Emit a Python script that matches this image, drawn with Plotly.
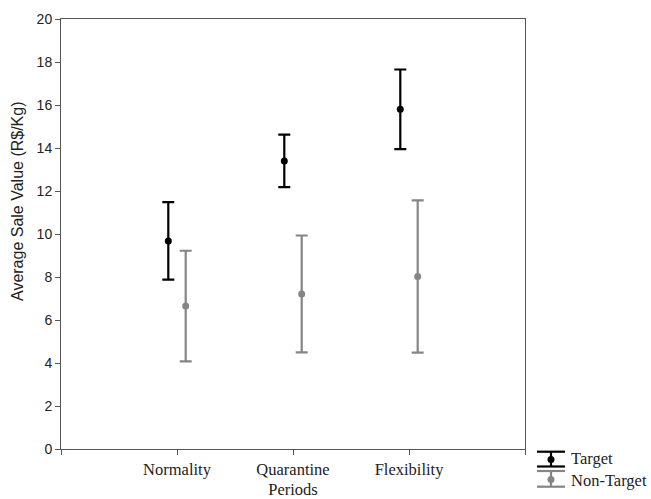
import plotly.graph_objects as go

categories = ["Normality", "Quarantine", "Flexibility"]
target_mean = [9.68, 13.40, 15.80]
target_err = [1.80, 1.22, 1.85]
nontarget_mean = [6.65, 7.21, 8.02]
nontarget_err = [2.57, 2.72, 3.54]
y_ticks = [0, 2, 4, 6, 8, 10, 12, 14, 16, 18, 20]

pos = [i + 1 for i in range(len(categories))]
off = 0.075

fig = go.Figure()
fig.add_trace(go.Scatter(
    x=[p - off for p in pos], y=target_mean, mode="markers", name="Target",
    marker=dict(color="black", size=7),
    error_y=dict(type="data", array=target_err, color="black", thickness=2.2, width=6),
    showlegend=False))
fig.add_trace(go.Scatter(
    x=[p + off for p in pos], y=nontarget_mean, mode="markers", name="Non-Target",
    marker=dict(color="#858585", size=7),
    error_y=dict(type="data", array=nontarget_err, color="#858585", thickness=2.2, width=6),
    showlegend=False))

axis_col = "#555555"
serif = "Liberation Serif"
sans = "Liberation Sans"
fig.update_layout(
    width=651, height=499,
    margin=dict(l=61, r=126, t=19, b=50),
    paper_bgcolor="white", plot_bgcolor="white",
    xaxis=dict(range=[0, 4], tickvals=[0] + pos + [4], ticktext=[""] + categories + [""],
               ticks="outside", ticklen=5, tickcolor=axis_col, showline=True, linecolor=axis_col,
               linewidth=1, mirror=True, showgrid=False, zeroline=False, automargin=False,
               tickfont=dict(family=serif, size=16.5, color="#222"),
               title=dict(text="Periods", font=dict(family=serif, size=16.5, color="#222"),
                          standoff=13)),
    yaxis=dict(range=[0, 20], tickvals=y_ticks, ticks="outside", ticklen=5, tickcolor=axis_col,
               showline=True, linecolor=axis_col, linewidth=1, mirror=True, showgrid=False,
               zeroline=False, automargin=False,
               tickfont=dict(family=sans, size=14, color="#222")),
)

# helpers convert page pixels to paper coords (plot area spans x 61..525, y 19..449)
def px_x(v):
    return (v - 61) / 464

def px_y(v):
    return (449 - v) / 430

# y-axis title (placed above centre as in the reference)
fig.add_annotation(text="Average Sale Value (R$/Kg)", xref="paper", yref="paper",
                   x=px_x(18), y=px_y(201), textangle=-90, showarrow=False,
                   xanchor="center", yanchor="middle",
                   font=dict(family=sans, size=16, color="#222"))

def legend_icon(y_top, y_mid, y_bot, col):
    x0, x1, xc = 537, 565, 551
    for yy in (y_top, y_bot):
        fig.add_shape(type="line", xref="paper", yref="paper",
                      x0=px_x(x0), x1=px_x(x1), y0=px_y(yy), y1=px_y(yy),
                      line=dict(color=col, width=2.2))
    fig.add_shape(type="line", xref="paper", yref="paper",
                  x0=px_x(xc), x1=px_x(xc), y0=px_y(y_top), y1=px_y(y_bot),
                  line=dict(color=col, width=2.2))
    fig.add_shape(type="circle", xref="paper", yref="paper",
                  x0=px_x(xc - 3.5), x1=px_x(xc + 3.5),
                  y0=px_y(y_mid + 3.5), y1=px_y(y_mid - 3.5),
                  fillcolor=col, line=dict(color=col, width=0))

legend_icon(451.7, 459.5, 466.5, "black")
legend_icon(471, 479.5, 486.7, "#858585")
for txt, yy in (("Target", 458), ("Non-Target", 480)):
    fig.add_annotation(text=txt, xref="paper", yref="paper", x=px_x(569),
                       y=px_y(yy), xanchor="left", yanchor="middle", showarrow=False,
                       font=dict(family=serif, size=16.5, color="#222"))

fig.write_html("out.html",
               config={"displayModeBar": False},
               post_script="document.body.style.margin='0';"
                           "document.documentElement.style.overflow='hidden';")
